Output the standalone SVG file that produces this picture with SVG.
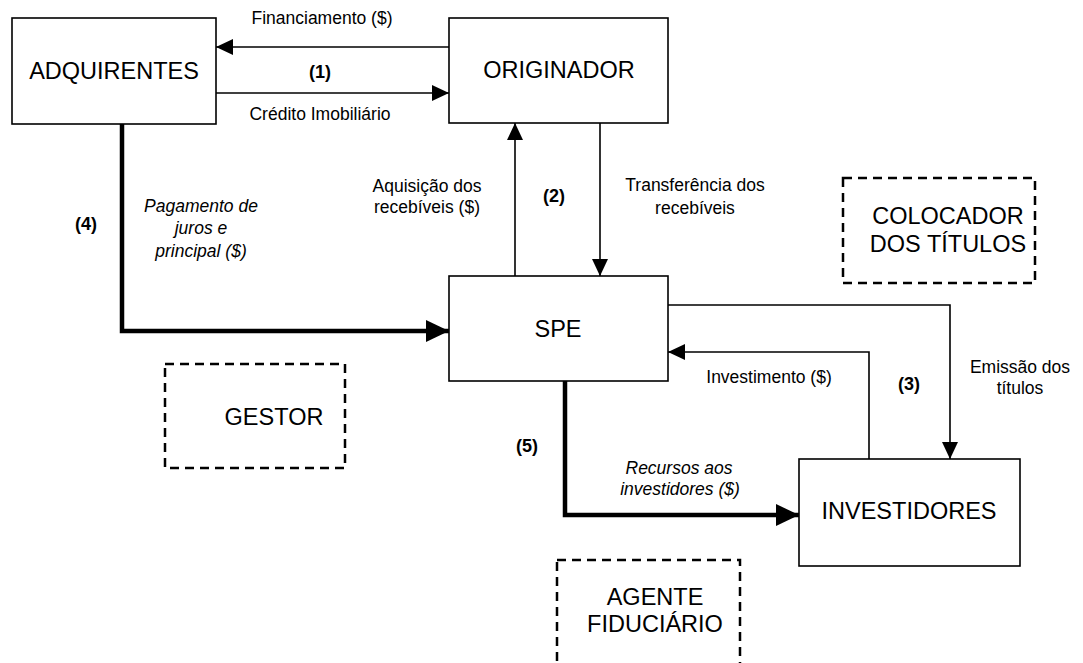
<svg xmlns="http://www.w3.org/2000/svg" width="1083" height="663" viewBox="0 0 1083 663">
<style>
.box{fill:#fff;stroke:#000;stroke-width:1.6}
.dash{fill:none;stroke:#000;stroke-width:2.5;stroke-dasharray:9 6}
.n{font-family:"Liberation Sans",Arial,sans-serif;font-size:23.5px;text-anchor:middle;fill:#000}
.l{font-family:"Liberation Sans",Arial,sans-serif;font-size:17.5px;text-anchor:middle;fill:#000}
.b{font-weight:bold;font-size:18px}
.i{font-style:italic}
.thin{fill:none;stroke:#000;stroke-width:1.6}
.thick{fill:none;stroke:#000;stroke-width:4.5}
</style>
<defs>
<marker id="a" markerUnits="userSpaceOnUse" markerWidth="17" markerHeight="16" refX="17" refY="8" orient="auto"><path d="M0,0 L17,8 L0,16 Z" fill="#000"/></marker>
<marker id="A" markerUnits="userSpaceOnUse" markerWidth="23" markerHeight="22" refX="23" refY="11" orient="auto"><path d="M0,0 L23,11 L0,22 Z" fill="#000"/></marker>
</defs>
<g id="connectors">
<path class="thin" d="M449,47 H216" marker-end="url(#a)"/>
<path class="thin" d="M216,93 H449" marker-end="url(#a)"/>
<path class="thin" d="M515,276 V123" marker-end="url(#a)"/>
<path class="thin" d="M600,123 V276" marker-end="url(#a)"/>
<path class="thick" d="M122,124 V331 H449" marker-end="url(#A)"/>
<path class="thin" d="M668,305 H950 V459" marker-end="url(#a)"/>
<path class="thin" d="M869,459 V352 H668" marker-end="url(#a)"/>
<path class="thick" d="M565,381 V515 H799" marker-end="url(#A)"/>
<text class="l" x="322" y="24">Financiamento ($)</text>
<text class="l b" x="320" y="78">(1)</text>
<text class="l" x="320" y="120">Crédito Imobiliário</text>
<text class="l" x="427" y="192">Aquisição dos</text>
<text class="l" x="427" y="213">recebíveis ($)</text>
<text class="l b" x="554" y="202">(2)</text>
<text class="l" x="695" y="191">Transferência dos</text>
<text class="l" x="695" y="214">recebíveis</text>
<text class="l b" x="86" y="230">(4)</text>
<text class="l i" x="201" y="212">Pagamento de</text>
<text class="l i" x="201" y="234">juros e</text>
<text class="l i" x="201" y="257">principal ($)</text>
<text class="l" x="769" y="383">Investimento ($)</text>
<text class="l b" x="909" y="390">(3)</text>
<text class="l" x="1020" y="373">Emissão dos</text>
<text class="l" x="1020" y="394">títulos</text>
<text class="l b" x="527" y="452">(5)</text>
<text class="l i" x="679" y="474">Recursos aos</text>
<text class="l i" x="680" y="495">investidores ($)</text>
</g>
<g id="adquirentes"><rect class="box" x="12" y="18" width="204" height="106"/><text class="n" x="114" y="79">ADQUIRENTES</text></g>
<g id="originador"><rect class="box" x="449" y="18" width="219" height="105"/><text class="n" x="559" y="78">ORIGINADOR</text></g>
<g id="spe"><rect class="box" x="449" y="276" width="219" height="105"/><text class="n" x="558" y="337">SPE</text></g>
<g id="investidores"><rect class="box" x="799" y="459" width="221" height="107"/><text class="n" x="909" y="519">INVESTIDORES</text></g>
<g id="gestor"><rect class="dash" x="165" y="364" width="180" height="104"/><text class="n" x="274" y="425">GESTOR</text></g>
<g id="colocador"><rect class="dash" x="843" y="178" width="192" height="105"/><text class="n" x="948" y="224">COLOCADOR</text><text class="n" x="948" y="252">DOS TÍTULOS</text></g>
<g id="agente"><rect class="dash" x="557" y="560" width="183" height="115"/><text class="n" x="655" y="605">AGENTE</text><text class="n" x="655" y="632">FIDUCIÁRIO</text></g>
</svg>
